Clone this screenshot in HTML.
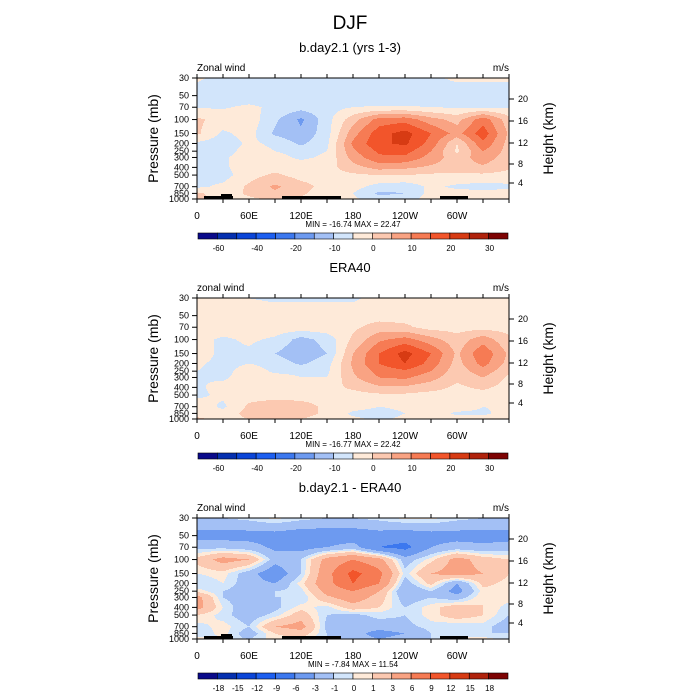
<!DOCTYPE html>
<html><head><meta charset="utf-8">
<style>
body{margin:0;background:#fff;}
svg{display:block;font-family:"Liberation Sans",sans-serif;}
</style></head>
<body>
<svg id="chart" width="700" height="700" viewBox="0 0 700 700" xmlns="http://www.w3.org/2000/svg">
<rect width="700" height="700" fill="#fff"/>
<text x="350" y="29" font-size="19" text-anchor="middle">DJF</text>
</svg>
<script>
// ---- data ----
const lons = [0,30,60,90,120,150,180,210,240,270,300,330,360];
const levels = [30,50,70,100,150,200,250,300,400,500,700,850,1000];
const xTickLabels = ["0","60E","120E","180","120W","60W"];
const xTickLons = [0,60,120,180,240,300];
const heightTicks = [20,16,12,8,4];
const heightOffsets = [21,43,65,86,105];
const levelsAbs = [-60,-50,-40,-30,-20,-15,-10,-5,0,5,10,15,20,25,30];
const absLabels = ["","-60","","-40","","-20","","-10","","0","","10","","20","","30"];
const levelsDiff = [-18,-15,-12,-9,-6,-3,-1,0,1,3,6,9,12,15,18];
const diffLabels = ["","-18","-15","-12","-9","-6","-3","-1","0","1","3","6","9","12","15","18"];
const palette = ["#0a0a8a","#0530b0","#0b45d8","#1d5ff0","#3c78ef","#6d9af0","#a3c0f5","#d2e5fb","#feead9","#fcc9b1","#f9a383","#f67b54","#f2552b","#d73b13","#b0230c","#7d0303"];

const modelU = [
 [-4,-7,-8,-8,-8,-8,-8,-8,-7,-6,-4,-4,-4],
 [-8,-8,-8,-8,-8,-8,-8,-8,-8,-8,-8,-8,-8],
 [-5.5,-5.5,-4,-6,-8,-7,-5,-4.5,-4.5,-5,-5.5,-5.5,-5.5],
 [1,-2,-2,-9,-16,-7,3,12,13,7,3,13,2],
 [1,-6,-3,-11,-14,-7,8,18,22,15,8,18,4],
 [-6,-8,-4,-6,-11,-6,11,19,21,13,0,14,3],
 [-6,-7,-3,-5,-7,-5,9,16,17,10,-1,10,3],
 [-5,-6,-2,-3,-6,-4,7,14,14,8,2,8,2],
 [-6,-6,-2,-2,-2,-2,3,7,6,4,3,4,1],
 [-5.5,-7,-2,1,-2,-2,-1,0,0,-1,-1,-1,-2],
 [-6,-4,1,6,2,-2,-3,-7,-8,-4,-6,-7,-6],
 [1,-3,1,4,1,-3,-5,-11,-10,-3,-3,-3,-3],
 [2,-2,-1,1,-1,-3,-4,-8,-7,-3,-2,-2,-2]
];
const eraU = [
 [-3,-3,-5,-6,-6,-6,-6,-3,-3,-3,-3,-3,-3],
 [-2,-2,-2,-2,-2,-2,-2,-2,-2,-2,-2,-2,-2],
 [-2,-2,-2,-2,-2,-2,-1,2,1,-2,-2,-2,-2],
 [-3,-6,-4,-6,-12,-8,1,9,12,7,2,8,1],
 [-1,-7,-6,-10,-14,-10,5,15,22,15,4,14,4],
 [-4,-7,-5,-7,-11,-7,6,15,20,13,3,12,3],
 [-5,-7,-2,-6,-6,-6,5,12,14,10,2,8,1],
 [-5,-6,-2,-3,-5,-5,4,10,11,7,1,5,-1],
 [-6,-3,-2,-2,-2,-2,1,4,4,2,-1,1,-2],
 [-6,-4,-2,-2,-2,-2,-2,-1,-1,-2,-2,-2,-2],
 [-2,-6,1,3,2,-1,-3,-5,-4,-3,-2,-5,-4],
 [-2,-3,2,3,2,-1,-6,-7,-5,-2,-6,-6,-3],
 [1,-2,0,1,0,-2,-4,-6,-4,-2,-3,-3,-1]
];
const diffU = [
 [-1,-1,-0.5,0.3,-0.5,-1,-1,-0.5,0.3,0.3,-0.5,-1,-1],
 [-4,-4,-4,-4,-4.5,-4.5,-4.5,-4,-4.5,-4,-4,-4,-4],
 [-1.5,-1.5,-2,-3.5,-4,-3,-2,-6,-7,-3,-2,-2.5,-2],
 [1.5,4,3,-2,-1,4,6,4,-2,0.5,4,2,1],
 [0,0.5,-2,-5,-1,5,10,7,-0.5,3,4,3,1],
 [-1,0,-2,-3,0.5,5,9,6,-2,1.5,-3,1.5,0.5],
 [0.5,-1,-2,-1,-0.5,4,6,3,-3,-1,-4,0.5,0.5],
 [4,-1,-2,-1,-1,2.5,4.5,2,-2,-1,-2,1,0.5],
 [4,0,-2.5,-1.5,0.5,-0.5,2,1,-1,0.5,2,1,-0.5],
 [1,-0.5,-2,-0.5,2,-1,-1.5,-0.5,-1,0.5,2,1,-1],
 [-0.5,0.5,-1,3,4,-1.5,-2,-2,-1.5,-0.5,-1,-0.5,-2],
 [-1,0.5,-2,1,2,-1,-2,-4,-3,-1,-0.5,-1,-1],
 [0.5,-0.5,-1,0.5,0.5,-1,-2,-3,-2,-1,0.5,0.5,-0.5]
];

// ---- drawing ----
const svg = document.getElementById('chart');
const NS = 'http://www.w3.org/2000/svg';
const X0 = 197, W = 312, H = 121;
const LOGR = Math.log(1000/30);
function xScale(lon){ return X0 + lon/360*W; }
function yScale(p, top){ return top + Math.log(p/30)/LOGR*H; }
function mk(tag, attrs, parent){
  const e = document.createElementNS(NS, tag);
  for (const k in attrs) e.setAttribute(k, attrs[k]);
  (parent||svg).appendChild(e);
  return e;
}
function txt(str, x, y, size, anchor, parent, extra){
  const t = mk('text', Object.assign({x:x, y:y, 'font-size':size, 'text-anchor':anchor||'middle'}, extra||{}), parent);
  t.textContent = str;
  return t;
}
function classify(v, bounds){ let c=0; for (const b of bounds) if (v>=b) c++; return c; }
function sample(data, lonIdx, p){
  let i = 0;
  while (i < levels.length-2 && p > levels[i+1]) i++;
  const t = Math.max(0, Math.min(1, Math.log(p/levels[i])/Math.log(levels[i+1]/levels[i])));
  const j = Math.min(11, Math.floor(lonIdx));
  const s = lonIdx - j;
  const a = data[i][j]*(1-s) + data[i][j+1]*s;
  const b = data[i+1][j]*(1-s) + data[i+1][j+1]*s;
  return a*(1-t) + b*t;
}

function panel(cfg){
  const top = cfg.top;
  const g = mk('g', {});
  
  
  const fg = mk('g', {'shape-rendering':'crispEdges'}, g);
  
  
  for (let py=0; py<H; py++){
    const p = 30*Math.exp((py+0.5)/H*LOGR);
    let runStart = 0, runCls = -1;
    for (let px=0; px<=W; px++){
      let cls = -2;
      if (px < W){
        const lonIdx = ((px+0.5)/W*360)/30;
        cls = classify(sample(cfg.data, lonIdx, p), cfg.bounds);
      }
      if (cls !== runCls){
        if (runCls >= 0){
          const r = mk('rect', {x:X0+runStart, y:top+py, width:px-runStart, height:1, fill:palette[runCls]}, fg);
          
          
        }
        runStart = px; runCls = cls;
      }
    }
  }
  if (cfg.topo){
    const tg = mk('g', {fill:'#000'}, g);
    
    
    mk('rect', {x:204, y:top+118, width:29, height:3}, tg);
    mk('rect', {x:221, y:top+116, width:11, height:5}, tg);
    mk('rect', {x:282, y:top+118, width:59, height:3}, tg);
    mk('rect', {x:440, y:top+118, width:28, height:3}, tg);
  }
  const fr = mk('rect', {x:X0, y:top, width:W, height:H, fill:'none', stroke:'#000', 'stroke-width':1}, g);
  
  
  for (let lon=0; lon<=360; lon+=30){
    const x = xScale(lon);
    mk('line', {x1:x, x2:x, y1:top+H, y2:top+H+4, stroke:'#000'}, g);
    mk('line', {x1:x, x2:x, y1:top, y2:top-4, stroke:'#000'}, g);
  }
  xTickLabels.forEach((l,i)=>{
    const t = txt(l, xScale(xTickLons[i]), top+H+20, 10, 'middle', g);
    
    
  });
  levels.forEach(p=>{
    const y = yScale(p, top);
    mk('line', {x1:X0-5, x2:X0, y1:y, y2:y, stroke:'#000'}, g);
    const t = txt(String(p), X0-8, y+3, 9, 'end', g);
    
    
  });
  heightTicks.forEach((h,i)=>{
    const y = top + heightOffsets[i];
    mk('line', {x1:X0+W, x2:X0+W+5, y1:y, y2:y, stroke:'#000'}, g);
    const t = txt(String(h), X0+W+9, y+3, 9, 'start', g);
    
    
  });
  const st = txt(cfg.title, 350, top-26, 13, 'middle', g);
  
  
  const lt = txt(cfg.left, X0, top-7, 10, 'start', g);
  
  
  const ut = txt('m/s', X0+W, top-7, 10, 'end', g);
  
  
  const ya = txt('Pressure (mb)', 0, 0, 14, 'middle', g, {transform:`translate(158,${top+H/2}) rotate(-90)`});
  
  
  const ha = txt('Height (km)', 0, 0, 14, 'middle', g, {transform:`translate(553,${top+H/2}) rotate(-90)`});
  
  
  const mm = txt(cfg.minmax, 353, top+H+28, 8, 'middle', g);
  
  
  const cb = mk('g', {}, g);
  
  
  const cx0 = 198, cw = 310/16, cy = top+155;
  palette.forEach((c,i)=>{
    const r = mk('rect', {x:cx0+i*cw, y:cy, width:cw, height:6, fill:c, stroke:'#000', 'stroke-width':0.6}, cb);
    
    
  });
  cfg.labels.forEach((l,i)=>{
    if (!l) return;
    const t = txt(l, cx0+i*cw+1, cy+18, 8, 'middle', cb);
    
    
  });
}

panel({name:'panel-model', top:78, data:modelU, bounds:levelsAbs, labels:absLabels, topo:true,
  title:'b.day2.1 (yrs 1-3)', left:'Zonal wind', minmax:'MIN = -16.74  MAX =  22.47'});
panel({name:'panel-era40', top:298, data:eraU, bounds:levelsAbs, labels:absLabels, topo:false,
  title:'ERA40', left:'zonal wind', minmax:'MIN = -16.77  MAX =  22.42'});
panel({name:'panel-difference', top:518, data:diffU, bounds:levelsDiff, labels:diffLabels, topo:true,
  title:'b.day2.1 - ERA40', left:'Zonal wind', minmax:'MIN =  -7.84  MAX =  11.54'});
</script>
</body></html>
